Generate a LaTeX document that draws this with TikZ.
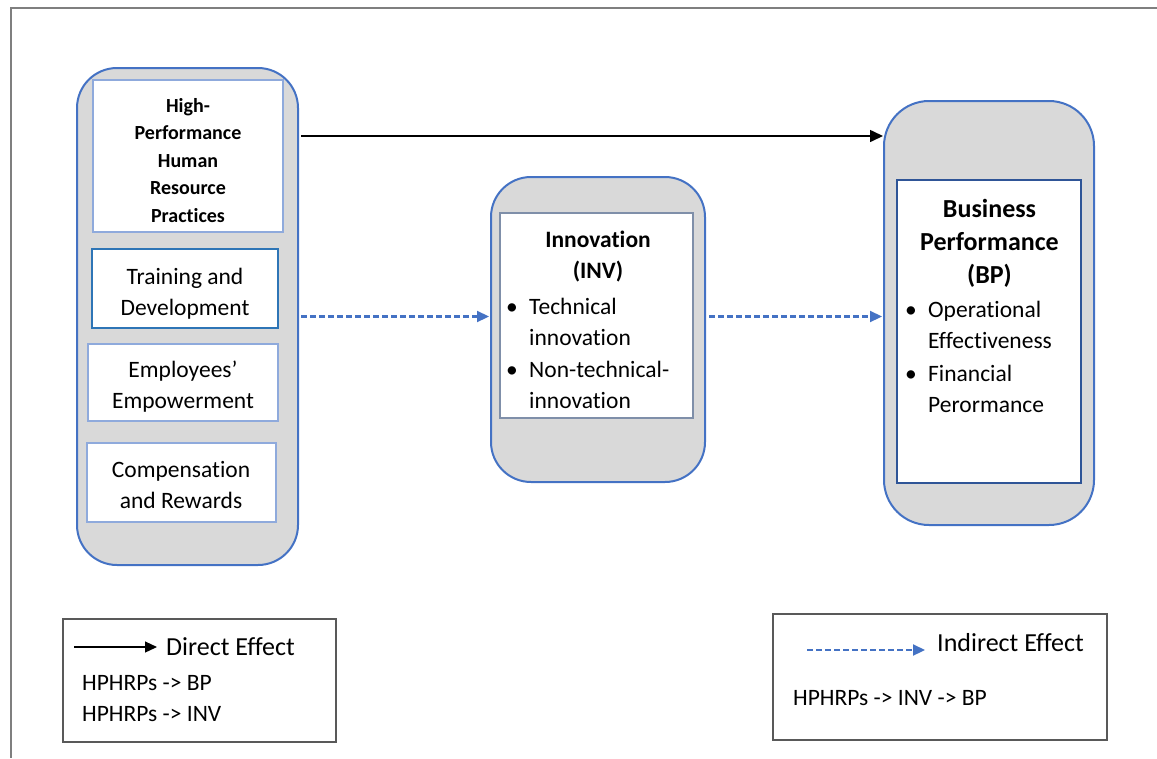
\documentclass[tikz,border=0pt]{standalone}
\usepackage{fontspec}
\setmainfont{Carlito}[Ligatures=NoCommon]
\usetikzlibrary{arrows.meta}
\definecolor{gfill}{HTML}{D9D9D9}
\definecolor{oblue}{HTML}{4472C4}
\definecolor{lblue}{HTML}{8FAADC}
\definecolor{mblue}{HTML}{2E75B6}
\definecolor{dblue}{HTML}{2F5597}
\definecolor{iblue}{HTML}{7F8FA9}
\definecolor{frame}{HTML}{7F7F7F}
\definecolor{legb}{HTML}{595959}
\begin{document}
\begin{tikzpicture}[x=1pt,y=-1pt,
  outerbox/.style={draw=oblue,fill=gfill,line width=2pt,rounded corners=40pt,inner sep=0pt},
  innerbox/.style={draw=lblue,fill=white,line width=1.2pt,inner sep=0pt,align=center,
     font=\fontsize{23.5}{31.5}\selectfont},
  txt/.style={inner sep=0pt,font=\fontsize{23.5}{31}\selectfont},
  bullettxt/.style={txt,align=left,anchor=base west},
  direct/.style={draw=black,line width=1.6pt,-{Triangle[length=13pt,width=12pt]}},
  indirect/.style={draw=oblue,line width=2.2pt,dash pattern=on 6pt off 3pt,-{Triangle[length=12pt,width=11pt]}},
  legbox/.style={draw=legb,line width=1.4pt,fill=white,inner sep=0pt}
]
\useasboundingbox (0,0) rectangle (1157,758);
% frame
\draw[frame,line width=1.8pt] (1157,8) -- (11,8) -- (11,758);

% left block
\node[outerbox,minimum width=221pt,minimum height=497pt] (hrOuter) at (187.5,316.5) {};
\node[innerbox,minimum width=190pt,minimum height=152pt] (hpBox) at (188,156) {};
\node[txt,align=center,anchor=base,font=\fontsize{20}{27.5}\selectfont\bfseries] (hpTxt) at (188,222)
  {High-\\Performance\\Human\\Resource\\Practices};
\node[innerbox,draw=mblue,minimum width=186pt,minimum height=79pt] (tdBox) at (185,288.5) {};
\node[txt,align=center,anchor=base] (tdTxt) at (185,315.5) {Training and\\Development};
\node[innerbox,minimum width=190pt,minimum height=77pt] (eeBox) at (183,382.5) {};
\node[txt,align=center,anchor=base] (eeTxt) at (183,408) {Employees’\\Empowerment};
\node[innerbox,minimum width=189pt,minimum height=79pt] (crBox) at (181.5,482.5) {};
\node[txt,align=center,anchor=base] (crTxt) at (181,508) {Compensation\\and Rewards};

% middle block
\node[outerbox,minimum width=214pt,minimum height=305pt] (invOuter) at (598,329.5) {};
\node[innerbox,draw=iblue,minimum width=193pt,minimum height=205pt] (invIn) at (596.5,315.5) {};
\node[txt,align=center,anchor=base,font=\fontsize{23.5}{31}\selectfont\bfseries] (invHead) at (598,278) {Innovation\\(INV)};
\node[bullettxt] (invB1) at (506,345.5) {\makebox[23pt][l]{\textbullet}Technical\\\hspace*{23pt}innovation};
\node[bullettxt] (invB2) at (506,408) {\makebox[23pt][l]{\textbullet}Non-technical-\\\hspace*{23pt}innovation};

% right block
\node[outerbox,rounded corners=45pt,minimum width=210pt,minimum height=424pt] (bpOuter) at (989,313) {};
\node[innerbox,draw=dblue,line width=2pt,minimum width=184pt,minimum height=303pt] (bpIn) at (989,331.5) {};
\node[txt,align=center,anchor=base,font=\fontsize{26}{33}\selectfont\bfseries] (bpHead) at (989.5,283) {Business\\Performance\\(BP)};
\node[bullettxt] (bpB1) at (905,348.5) {\makebox[23pt][l]{\textbullet}Operational\\\hspace*{23pt}Effectiveness};
\node[bullettxt] (bpB2) at (905,412) {\makebox[23pt][l]{\textbullet}Financial\\\hspace*{23pt}Perormance};

% connectors
\coordinate (yD) at (0,136);
\coordinate (yI) at (0,316.5);
\draw[direct] ([xshift=2pt]hrOuter.east |- yD) -- (bpOuter.west |- yD);
\draw[indirect] ([xshift=2pt]hrOuter.east |- yI) -- ([xshift=-1pt]invOuter.west |- yI);
\draw[indirect] ([xshift=3pt]invOuter.east |- yI) -- ([xshift=-1pt]bpOuter.west |- yI);

% legend: direct
\node[legbox,minimum width=273pt,minimum height=123pt] (legD) at (199.5,680.5) {};
\coordinate (dA) at (74,647);
\coordinate (dB) at (157,647);
\draw[direct,line width=1.2pt,-{Triangle[length=12pt,width=11pt]}] (dA) -- (dB);
\node[txt,anchor=base west,font=\fontsize{26}{31}\selectfont] (legDT) at (166,655) {Direct Effect};
\node[txt,anchor=base west] (legD1) at (82,690) {HPHRPs -> BP};
\node[txt,anchor=base west] (legD2) at (82,721) {HPHRPs -> INV};

% legend: indirect
\node[legbox,minimum width=334pt,minimum height=126pt] (legI) at (940,677) {};
\coordinate (iA) at (807,650);
\coordinate (iB) at (925,650);
\draw[indirect] (iA) -- (iB);
\node[txt,anchor=base west,font=\fontsize{26}{31}\selectfont] (legIT) at (937,651) {Indirect Effect};
\node[txt,anchor=base west] (legI1) at (793,705) {HPHRPs -> INV -> BP};
\end{tikzpicture}
\end{document}
